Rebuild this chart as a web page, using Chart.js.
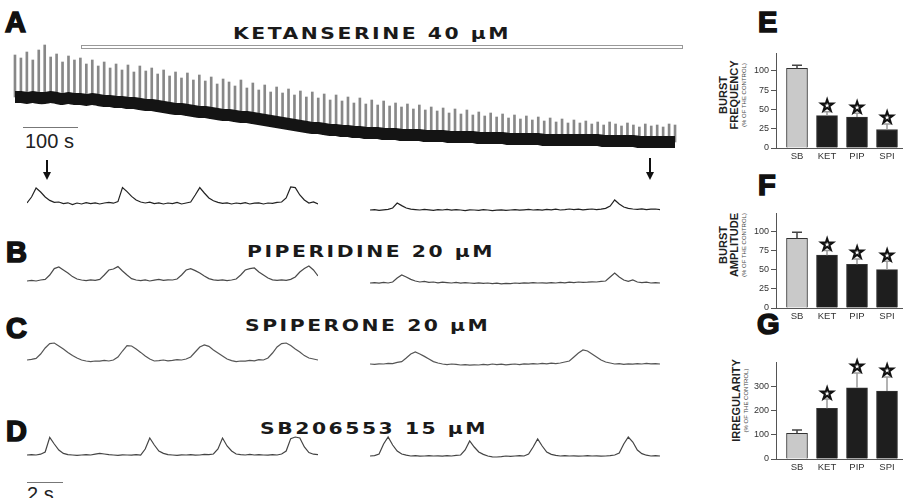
<!DOCTYPE html>
<html>
<head>
<meta charset="utf-8">
<script src="https://cdn.jsdelivr.net/npm/chart.js@4.4.1/dist/chart.umd.min.js"></script>
<style>
  html, body { margin: 0; padding: 0; background: #fff; }
  #fig { position: relative; width: 903px; height: 498px; overflow: hidden; font-family: "Liberation Sans", Arial, sans-serif; color: #111; }
  canvas { position: absolute; }
  .panel { position: absolute; font-weight: bold; font-size: 29px; line-height: 1; -webkit-text-stroke: 1.6px #111; }
  .drug { position: absolute; font-family: "DejaVu Sans", sans-serif; font-weight: bold; font-size: 16px; line-height: 1; letter-spacing: 2px; white-space: nowrap; color: #1a1a1a; transform: scaleX(1.27); transform-origin: 0 0; }
  .scale { position: absolute; font-size: 20px; line-height: 1; color: #222; white-space: nowrap; }
  .hline { position: absolute; height: 0; border-top: 1px solid #777; }
  .ytitle { position: absolute; transform: rotate(-90deg); text-align: center; color: #222; }
  .ytitle .big { font-weight: bold; font-size: 11px; line-height: 11px; white-space: nowrap; }
  .ytitle .small { font-size: 6px; line-height: 8px; white-space: nowrap; color: #444; }
  .arrow { position: absolute; width: 8px; }
  .arrow .stem { margin: 0 auto; width: 2px; background: #111; }
  .arrow .head { width: 0; height: 0; border-left: 4px solid transparent; border-right: 4px solid transparent; border-top: 8px solid #111; }
</style>
</head>
<body>
<div id="fig">
  <div class="panel" style="left:5px; top:8px;">A</div>
  <div class="panel" style="left:6px; top:238px;">B</div>
  <div class="panel" style="left:6px; top:314px;">C</div>
  <div class="panel" style="left:6px; top:417px;">D</div>
  <div class="panel" style="left:758px; top:8px;">E</div>
  <div class="panel" style="left:758px; top:171px;">F</div>
  <div class="panel" style="left:757px; top:310px;">G</div>

  <div class="drug" style="left:233px; top:26px;">KETANSERINE 40 μM</div>
  <div class="drug" style="left:247px; top:244px;">PIPERIDINE 20 μM</div>
  <div class="drug" style="left:245px; top:318px;">SPIPERONE 20 μM</div>
  <div class="drug" style="left:260px; top:421px;">SB206553 15 μM</div>

  <!-- drug application bar -->
  <div style="position:absolute; left:81px; top:45px; width:600px; height:2px; border:1px solid #999; background:#fff;"></div>

  <!-- scale bars -->
  <div class="hline" style="left:23px; top:127px; width:55px;"></div>
  <div class="scale" style="left:25px; top:131px;">100 s</div>
  <div class="hline" style="left:27px; top:482px; width:36px;"></div>
  <div class="scale" style="left:27px; top:484px;">2 s</div>

  <!-- arrows -->
  <div class="arrow" style="left:43px; top:160px;"><div class="stem" style="height:12px;"></div><div class="head"></div></div>
  <div class="arrow" style="left:646px; top:158px;"><div class="stem" style="height:14px;"></div><div class="head"></div></div>

  <!-- bar chart titles -->
  <div class="ytitle" style="left:688px; top:80px; width:90px; height:30px;">
    <div class="big">BURST</div><div class="big">FREQUENCY</div><div class="small">(% OF THE CONTROL)</div>
  </div>
  <div class="ytitle" style="left:688px; top:230px; width:90px; height:30px;">
    <div class="big">BURST</div><div class="big">AMPLITUDE</div><div class="small">(% OF THE CONTROL)</div>
  </div>
  <div class="ytitle" style="left:695px; top:391px; width:90px; height:19px;">
    <div class="big">IRREGULARITY</div><div class="small">(% OF THE CONTROL)</div>
  </div>

  <canvas id="trA" width="666" height="112" style="left:12px; top:40px;"></canvas>

  <canvas id="aL" width="291" height="30" style="left:27px; top:180px;"></canvas>
  <canvas id="aR" width="290" height="30" style="left:370px; top:186px;"></canvas>
  <canvas id="bL" width="291" height="30" style="left:27px; top:257px;"></canvas>
  <canvas id="bR" width="290" height="30" style="left:370px; top:259px;"></canvas>
  <canvas id="cL" width="291" height="30" style="left:27px; top:336px;"></canvas>
  <canvas id="cR" width="290" height="30" style="left:370px; top:340px;"></canvas>
  <canvas id="dL" width="291" height="30" style="left:27px; top:431px;"></canvas>
  <canvas id="dR" width="290" height="30" style="left:370px; top:432px;"></canvas>

  <canvas id="barE" width="158" height="125" style="left:745px; top:45px;"></canvas>
  <canvas id="barF" width="158" height="125" style="left:745px; top:205px;"></canvas>
  <canvas id="barG" width="158" height="127" style="left:745px; top:354px;"></canvas>
</div>

<script>
// Long ketanserin recording: baseline level and burst peak for each burst (a.u.)
const ketBase = [
  53, 53, 52, 53, 52, 52, 53, 52, 51, 52, 51, 51, 50, 51, 50, 49,
  49, 48, 48, 47, 47, 46, 45, 45, 44, 43, 42, 41, 41, 40, 39, 38,
  38, 37, 36, 35, 35, 34, 33, 33, 32, 31, 30, 29, 28, 27, 26, 25,
  24, 23, 22, 22, 21, 20, 20, 19, 19, 18, 18, 17, 17, 17, 16, 16,
  16, 15, 15, 15, 15, 14, 14, 14, 14, 13, 13, 13, 13, 13, 12, 12,
  12, 12, 12, 11, 11, 11, 11, 11, 11, 10, 10, 10, 10, 10, 10, 10,
  10, 10, 10, 9, 9, 9, 9, 9, 9, 8, 8, 8, 8, 8, 8, 8
];
const ketPeak = [
  95, 92, 98, 90, 100, 105, 93, 96, 88, 94, 90, 92, 86, 90, 84, 88,
  82, 86, 80, 85, 78, 84, 79, 82, 76, 80, 74, 78, 72, 77, 70, 75,
  69, 73, 66, 71, 68, 64, 70, 62, 67, 60, 65, 58, 63, 57, 61, 55,
  59, 53, 58, 52, 56, 50, 55, 49, 53, 47, 52, 46, 50, 45, 49, 44,
  47, 43, 46, 41, 45, 40, 43, 39, 42, 37, 41, 36, 40, 35, 38, 34,
  37, 33, 36, 32, 35, 31, 34, 30, 33, 29, 32, 28, 31, 27, 30, 27,
  29, 26, 28, 25, 28, 26, 24, 27, 25, 23, 26, 24, 25, 23, 26, 25
];

// Expanded traces, one sample every 0.25 s over 16 s (a.u.)
const ketStart = [
  0.05, 0.35, 0.8, 0.6, 0.35, 0.18, 0.08, 0.1,
  0.02, 0.06, -0.03, 0.05, 0.0, 0.07, 0.02, 0.06,
  0.0, 0.05, 0.08, 0.04, 0.12, 0.82, 0.62, 0.38,
  0.2, 0.1, 0.05, 0.09, 0.02, 0.06, 0.0, 0.05,
  0.02, 0.08, 0.0, 0.05, 0.1, 0.45, 0.82, 0.55,
  0.3, 0.16, 0.08, 0.03, 0.06, 0.0, 0.05, 0.02,
  0.07, 0.0, 0.04, 0.06, 0.0, 0.05, 0.03, 0.08,
  0.1, 0.3, 0.85, 0.82, 0.45, 0.2, 0.05, 0.1,
  0.0
];
const ketEnd = [
  0.0, 0.02, -0.02, 0.01, 0.03, 0.1, 0.35, 0.22,
  0.1, 0.04, 0.02, 0.0, 0.03, 0.01, -0.02, 0.02,
  0.0, 0.03, -0.01, 0.02, 0.0, -0.03, 0.01, 0.0,
  -0.02, 0.02, 0.0, -0.03, -0.01, 0.01, -0.02, 0.0,
  0.02, -0.01, 0.01, 0.03, 0.0, 0.02, -0.01, 0.03,
  0.01, 0.04, 0.0, 0.02, 0.05, 0.02, 0.04, 0.01,
  0.03, 0.05, 0.02, 0.04, 0.08, 0.2, 0.5, 0.3,
  0.15, 0.08, 0.05, 0.03, 0.06, 0.02, 0.04, 0.05,
  0.02
];
const pipStart = [
  0.0, 0.03, 0.0, 0.05, 0.08, 0.3, 0.62, 0.7,
  0.55, 0.4, 0.22, 0.1, 0.05, 0.02, 0.06, 0.03,
  0.08, 0.3, 0.55, 0.6, 0.72, 0.5, 0.3, 0.12,
  0.05, 0.02, 0.06, 0.0, 0.04, 0.08, 0.03, 0.06,
  0.05, 0.1, 0.3, 0.55, 0.62, 0.52, 0.4, 0.25,
  0.12, 0.06, 0.03, 0.06, 0.02, 0.05, 0.1, 0.3,
  0.55, 0.62, 0.65, 0.45, 0.3, 0.15, 0.06, 0.03,
  0.06, 0.03, 0.08, 0.2, 0.45, 0.62, 0.75, 0.55,
  0.25
];
const pipEnd = [
  0.0, 0.02, -0.01, 0.03, 0.0, 0.05, 0.25, 0.4,
  0.3, 0.18, 0.1, 0.05, 0.08, 0.03, 0.05, 0.01,
  0.04, 0.02, 0.0, 0.03, -0.01, 0.02, 0.0, -0.02,
  0.01, -0.02, 0.0, -0.03, -0.01, -0.04, -0.02, -0.03,
  0.0, -0.02, 0.01, -0.01, 0.02, 0.0, 0.01, -0.01,
  0.02, 0.0, 0.03, 0.01, 0.04, 0.02, 0.05, 0.03,
  0.04, 0.06, 0.05, 0.08, 0.1, 0.3, 0.5, 0.3,
  0.15, 0.08, 0.15, 0.05, 0.02, 0.04, 0.0, 0.02,
  0.0
];
const spiStart = [
  0.0, 0.03, 0.08, 0.3, 0.6, 0.82, 0.85, 0.7,
  0.55, 0.38, 0.22, 0.1, 0.0, -0.05, -0.08, -0.05,
  -0.06, -0.02, -0.05, 0.0, 0.15, 0.45, 0.72, 0.7,
  0.55, 0.38, 0.2, 0.05, -0.05, -0.03, 0.0, -0.04,
  -0.02, 0.02, 0.0, 0.05, 0.15, 0.4, 0.65, 0.75,
  0.68, 0.5, 0.35, 0.2, 0.05, -0.03, -0.08, -0.05,
  -0.06, -0.02, -0.04, 0.02, 0.0, 0.1, 0.35, 0.65,
  0.82, 0.85, 0.72, 0.55, 0.4, 0.22, 0.1, 0.05,
  0.0
];
const spiEnd = [
  0.0, -0.02, 0.01, 0.0, 0.03, 0.02, 0.08, 0.12,
  0.3, 0.5, 0.6, 0.5, 0.38, 0.25, 0.12, 0.05,
  0.0, -0.03, 0.0, -0.02, -0.05, -0.03, -0.06, -0.04,
  -0.05, -0.02, -0.04, 0.0, -0.03, -0.01, -0.04, -0.02,
  0.0, -0.03, 0.01, -0.01, 0.02, 0.0, 0.03, 0.01,
  0.04, 0.02, 0.05, 0.1, 0.15, 0.35, 0.55, 0.7,
  0.65, 0.5, 0.35, 0.2, 0.1, 0.05, 0.0, 0.02,
  -0.02, 0.01, -0.01, 0.02, 0.0, 0.03, 0.01, 0.02,
  0.0
];
const sbStart = [
  0.0, 0.02, 0.0, 0.04, 0.15, 0.88, 0.55, 0.25,
  0.08, 0.02, 0.0, -0.02, 0.0, 0.02, 0.0, 0.04,
  0.08, 0.05, 0.02, 0.0, -0.02, 0.01, 0.0, -0.01,
  0.02, 0.0, 0.3, 0.85, 0.5, 0.2, 0.08, 0.02,
  0.0, -0.02, 0.01, 0.0, 0.02, -0.01, 0.0, 0.03,
  0.02, 0.05, 0.3, 0.85, 0.45, 0.2, 0.05, 0.02,
  0.0, 0.03, 0.0, 0.02, 0.0, -0.01, 0.02, 0.0,
  0.05, 0.2, 0.82, 0.9, 0.85, 0.4, 0.12, 0.04,
  0.02
];
const sbEnd = [
  0.0, 0.02, 0.1, 0.6, 0.95, 0.55, 0.25, 0.1,
  0.04, 0.0, 0.02, -0.01, 0.0, 0.02, 0.0, 0.01,
  -0.01, 0.02, 0.0, 0.03, 0.05, 0.3, 0.75, 0.45,
  0.2, 0.08, 0.0, -0.04, -0.05, -0.03, 0.0, -0.02,
  0.0, 0.02, 0.0, 0.1, 0.45, 0.85, 0.5, 0.2,
  0.08, 0.03, 0.0, 0.02, 0.0, 0.01, -0.01, 0.0,
  0.02, 0.0, 0.01, -0.01, 0.0, 0.02, 0.05, 0.15,
  0.6, 0.95, 0.7, 0.3, 0.12, 0.04, 0.0, 0.02,
  0.0
];

// Bar panels (% of the control): mean, SEM, significance
const groups = ['SB', 'KET', 'PIP', 'SPI'];
const freqMean = [103, 42, 40, 24];
const freqErr = [4, 5, 5, 7];
const ampMean = [91, 69, 57, 50];
const ampErr = [8, 6, 7, 11];
const irrMean = [106, 209, 294, 280];
const irrErr = [14, 38, 61, 58];
const signif = [false, true, true, true];
const ticksFreq = [0, 25, 50, 75, 100];
const ticksAmp = [0, 25, 50, 75, 100];
const ticksIrr = [0, 100, 200, 300];

const noHover = { responsive: false, animation: false, events: [] };

new Chart(document.getElementById('trA'), {
  type: 'bar',
  data: {
    labels: ketBase.map((v, i) => i),
    datasets: [
      { type: 'line', data: ketBase, borderColor: '#141414', borderWidth: 12, pointRadius: 0, tension: 0.2, order: 0 },
      { type: 'bar', data: ketBase.map((b, i) => [b, ketPeak[i]]), backgroundColor: '#888', barThickness: 2, order: 1 }
    ]
  },
  options: {
    ...noHover,
    layout: { padding: 0 },
    plugins: { legend: { display: false }, tooltip: { enabled: false } },
    scales: { x: { display: false }, y: { display: false, min: -2, max: 110 } }
  }
});

function trace(id, values, color) {
  new Chart(document.getElementById(id), {
    type: 'line',
    data: {
      labels: values.map((v, i) => i),
      datasets: [{ data: values, borderColor: color, borderWidth: 1.2, pointRadius: 0, tension: 0 }]
    },
    options: {
      ...noHover,
      layout: { padding: 0 },
      plugins: { legend: { display: false }, tooltip: { enabled: false } },
      scales: { x: { display: false }, y: { display: false, min: -0.3, max: 1.2 } }
    }
  });
}
trace('aL', ketStart, '#222');
trace('aR', ketEnd, '#222');
trace('bL', pipStart, '#4a4a4a');
trace('bR', pipEnd, '#4a4a4a');
trace('cL', spiStart, '#555');
trace('cR', spiEnd, '#555');
trace('dL', sbStart, '#444');
trace('dR', sbEnd, '#444');

// error bars + significance stars, placed through the y scale
const errStars = {
  id: 'errStars',
  afterDatasetsDraw(chart, args, opts) {
    const ctx = chart.ctx;
    const y = chart.scales.y;
    chart.getDatasetMeta(0).data.forEach((bar, i) => {
      const top = y.getPixelForValue(opts.mean[i] + opts.err[i]);
      ctx.save();
      ctx.strokeStyle = i === 0 ? '#444' : '#9a9a9a';
      ctx.lineWidth = 1.5;
      ctx.beginPath();
      ctx.moveTo(bar.x, bar.y);
      ctx.lineTo(bar.x, top);
      ctx.moveTo(bar.x - 5, top);
      ctx.lineTo(bar.x + 5, top);
      ctx.stroke();
      if (signif[i]) {
        ctx.font = 'bold 17px "DejaVu Sans"';
        ctx.textAlign = 'center';
        ctx.textBaseline = 'middle';
        ctx.fillStyle = '#111';
        ctx.strokeStyle = '#111';
        ctx.lineWidth = 1.6;
        ctx.fillText('☆', bar.x, top - 5);
        ctx.strokeText('☆', bar.x, top - 5);
      }
      ctx.restore();
    });
  }
};

function barPanel(id, mean, err, yMax, yTicks) {
  new Chart(document.getElementById(id), {
    type: 'bar',
    data: {
      datasets: [{
        data: mean.map((v, i) => ({ x: i, y: v })),
        backgroundColor: mean.map((v, i) => i === 0 ? '#c9c9c9' : '#1e1e1e'),
        borderColor: '#333',
        borderWidth: 1,
        barThickness: 21
      }]
    },
    options: {
      ...noHover,
      layout: { padding: { top: 8, right: 1, left: 0, bottom: 0 } },
      plugins: { legend: { display: false }, tooltip: { enabled: false }, errStars: { mean: mean, err: err } },
      scales: {
        x: {
          type: 'linear', offset: false, min: -0.7, max: 3.5,
          afterBuildTicks: s => { s.ticks = groups.map((g, i) => ({ value: i })); },
          afterFit: s => { s.height = 22; },
          grid: { display: false, drawTicks: false },
          border: { display: true, color: '#555', width: 1 },
          ticks: { color: '#333', font: { family: 'Liberation Sans', size: 9.5 }, padding: 3, callback: v => groups[v] }
        },
        y: {
          min: 0, max: yMax,
          afterBuildTicks: s => { s.ticks = yTicks.map(v => ({ value: v })); },
          afterFit: s => { s.width = 31; },
          grid: { drawOnChartArea: false, tickLength: 5, color: '#555' },
          border: { display: true, color: '#555', width: 1 },
          ticks: { color: '#333', font: { family: 'Liberation Sans', size: 9 }, padding: 2 }
        }
      }
    },
    plugins: [errStars]
  });
}
barPanel('barE', freqMean, freqErr, 123, ticksFreq);
barPanel('barF', ampMean, ampErr, 124, ticksAmp);
barPanel('barG', irrMean, irrErr, 400, ticksIrr);
</script>
</body>
</html>
